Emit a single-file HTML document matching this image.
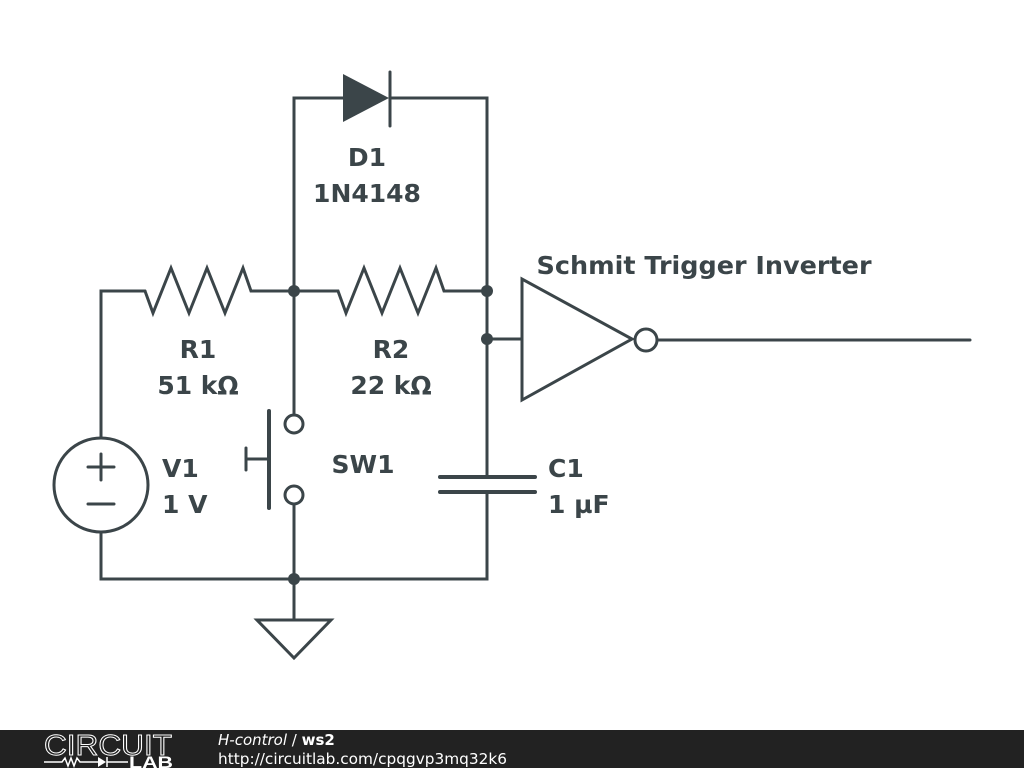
<!DOCTYPE html>
<html><head><style>
html,body{margin:0;padding:0;background:#fff;}
svg{display:block;}
</style></head><body>
<svg width="1024" height="768" viewBox="0 0 1024 768" xmlns="http://www.w3.org/2000/svg">
<rect width="1024" height="768" fill="#fff"/>
<g stroke="#3b4549" stroke-width="3" fill="none" stroke-linejoin="miter" stroke-linecap="round">
<polyline points="101,438 101,291 145,291"/>
<polyline points="145,291 153,313 171,268 189,313 207,268 225,313 243,268 251,291 294,291"/>
<polyline points="294,291 338,291 346,313 364,268 382,313 400,268 418,313 436,268 444,291 487,291"/>
<polyline points="294,291 294,98 343,98"/>
<polyline points="390,98 487,98 487,477"/>
<line x1="390" y1="72" x2="390" y2="126"/>
<line x1="294" y1="291" x2="294" y2="415"/>
<circle cx="294" cy="424" r="9"/>
<circle cx="294" cy="495" r="9"/>
<line x1="294" y1="504" x2="294" y2="579"/>
<line x1="269" y1="411" x2="269" y2="508" stroke-width="4"/>
<line x1="246" y1="448" x2="246" y2="470"/>
<line x1="246" y1="459" x2="269" y2="459"/>
<circle cx="101" cy="485" r="47"/>
<line x1="88" y1="467" x2="114" y2="467"/>
<line x1="101" y1="454" x2="101" y2="480"/>
<line x1="88" y1="504" x2="114" y2="504"/>
<polyline points="101,532 101,579 487,579 487,492"/>
<line x1="440" y1="477" x2="535" y2="477" stroke-width="4"/>
<line x1="440" y1="492" x2="535" y2="492" stroke-width="4"/>
<line x1="294" y1="579" x2="294" y2="620"/>
<polygon points="257,620 331,620 294,658"/>
<line x1="487" y1="339" x2="522" y2="339"/>
<polygon points="522,279 522,400 632,339"/>
<circle cx="646" cy="340" r="11"/>
<line x1="657" y1="340" x2="970" y2="340"/>
</g>
<polygon points="343,74 343,122 389,98" fill="#3b4549"/>
<g fill="#3b4549">
<circle cx="294" cy="291" r="6"/>
<circle cx="487" cy="291" r="6"/>
<circle cx="487" cy="339" r="6"/>
<circle cx="294" cy="579" r="6"/>
</g>
<g font-family="DejaVu Sans, sans-serif" font-weight="bold" font-size="25" fill="#3b4549" text-anchor="middle">
<text x="367" y="166">D1</text>
<text x="367" y="202">1N4148</text>
<text x="198" y="358">R1</text>
<text x="198" y="394">51 kΩ</text>
<text x="391" y="358">R2</text>
<text x="391" y="394">22 kΩ</text>
<text x="363" y="473">SW1</text>
<text x="704" y="274" textLength="335" lengthAdjust="spacingAndGlyphs">Schmit Trigger Inverter</text>
</g>
<g font-family="DejaVu Sans, sans-serif" font-weight="bold" font-size="25" fill="#3b4549">
<text x="162" y="477">V1</text>
<text x="162" y="513">1 V</text>
<text x="548" y="477">C1</text>
<text x="548" y="513">1 µF</text>
</g>
<rect x="0" y="730" width="1024" height="38" fill="#222"/>
<text x="44" y="755" font-family="Liberation Sans, sans-serif" font-size="29" fill="none" stroke="#fff" stroke-width="1" textLength="128" lengthAdjust="spacingAndGlyphs">CIRCUIT</text>
<polyline points="44,762 62,762 65,758 68,766 71,758 74,766 77,758 80,762 98,762" fill="none" stroke="#fff" stroke-width="1.5"/>
<polygon points="98,757 98,767 106,762" fill="#fff"/>
<line x1="107" y1="757" x2="107" y2="767" stroke="#fff" stroke-width="1.5"/>
<line x1="107" y1="762" x2="128" y2="762" stroke="#fff" stroke-width="1.5"/>
<text x="129" y="768" font-family="Liberation Sans, sans-serif" font-weight="bold" font-size="17" fill="#fff" textLength="44" lengthAdjust="spacingAndGlyphs">LAB</text>
<text x="218" y="745" font-family="DejaVu Sans, sans-serif" font-size="15" fill="#fff"><tspan font-style="italic">H-control</tspan> / <tspan font-weight="bold">ws2</tspan></text>
<text x="218" y="764" font-family="DejaVu Sans, sans-serif" font-size="15" fill="#fff" textLength="289" lengthAdjust="spacingAndGlyphs">http://circuitlab.com/cpqgvp3mq32k6</text>
</svg>
</body></html>
